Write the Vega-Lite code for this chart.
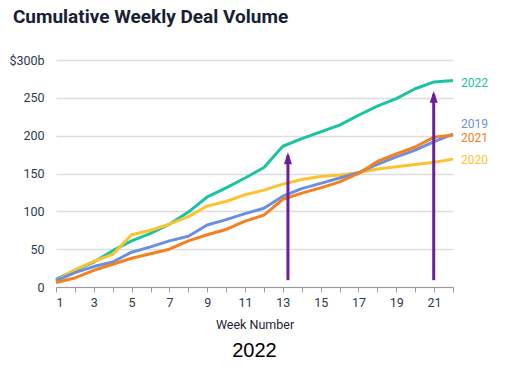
{
  "$schema": "https://vega.github.io/schema/vega-lite/v6.json",
  "padding": {"left": 8, "top": 8, "right": 5, "bottom": 5},
  "background": "white",
  "title": {"text": "Cumulative Weekly Deal Volume", "anchor": "start", "frame": "bounds", "font": "Roboto", "fontSize": 19, "fontWeight": "bold", "color": "#172133", "offset": 27, "dx": 4},
  "datasets": {
    "lines": [
      {"year": "2022", "week": 1, "value": 10}, {"year": "2022", "week": 2, "value": 22}, {"year": "2022", "week": 3, "value": 33}, {"year": "2022", "week": 4, "value": 48}, {"year": "2022", "week": 5, "value": 61}, {"year": "2022", "week": 6, "value": 71}, {"year": "2022", "week": 7, "value": 83}, {"year": "2022", "week": 8, "value": 99}, {"year": "2022", "week": 9, "value": 119}, {"year": "2022", "week": 10, "value": 131}, {"year": "2022", "week": 11, "value": 144}, {"year": "2022", "week": 12, "value": 158}, {"year": "2022", "week": 13, "value": 186}, {"year": "2022", "week": 14, "value": 196}, {"year": "2022", "week": 15, "value": 205}, {"year": "2022", "week": 16, "value": 214}, {"year": "2022", "week": 17, "value": 227}, {"year": "2022", "week": 18, "value": 239}, {"year": "2022", "week": 19, "value": 249}, {"year": "2022", "week": 20, "value": 262}, {"year": "2022", "week": 21, "value": 271}, {"year": "2022", "week": 22, "value": 273},
      {"year": "2020", "week": 1, "value": 8}, {"year": "2020", "week": 2, "value": 23}, {"year": "2020", "week": 3, "value": 34}, {"year": "2020", "week": 4, "value": 43}, {"year": "2020", "week": 5, "value": 69}, {"year": "2020", "week": 6, "value": 75}, {"year": "2020", "week": 7, "value": 83}, {"year": "2020", "week": 8, "value": 93}, {"year": "2020", "week": 9, "value": 107}, {"year": "2020", "week": 10, "value": 113}, {"year": "2020", "week": 11, "value": 122}, {"year": "2020", "week": 12, "value": 128}, {"year": "2020", "week": 13, "value": 136}, {"year": "2020", "week": 14, "value": 142}, {"year": "2020", "week": 15, "value": 146}, {"year": "2020", "week": 16, "value": 148}, {"year": "2020", "week": 17, "value": 151}, {"year": "2020", "week": 18, "value": 156}, {"year": "2020", "week": 19, "value": 159}, {"year": "2020", "week": 20, "value": 162}, {"year": "2020", "week": 21, "value": 165}, {"year": "2020", "week": 22, "value": 169},
      {"year": "2019", "week": 1, "value": 8}, {"year": "2019", "week": 2, "value": 19}, {"year": "2019", "week": 3, "value": 27}, {"year": "2019", "week": 4, "value": 33}, {"year": "2019", "week": 5, "value": 46}, {"year": "2019", "week": 6, "value": 53}, {"year": "2019", "week": 7, "value": 61}, {"year": "2019", "week": 8, "value": 67}, {"year": "2019", "week": 9, "value": 82}, {"year": "2019", "week": 10, "value": 89}, {"year": "2019", "week": 11, "value": 97}, {"year": "2019", "week": 12, "value": 104}, {"year": "2019", "week": 13, "value": 120}, {"year": "2019", "week": 14, "value": 130}, {"year": "2019", "week": 15, "value": 137}, {"year": "2019", "week": 16, "value": 144}, {"year": "2019", "week": 17, "value": 151}, {"year": "2019", "week": 18, "value": 162}, {"year": "2019", "week": 19, "value": 172}, {"year": "2019", "week": 20, "value": 181}, {"year": "2019", "week": 21, "value": 192}, {"year": "2019", "week": 22, "value": 202},
      {"year": "2021", "week": 1, "value": 6}, {"year": "2021", "week": 2, "value": 12}, {"year": "2021", "week": 3, "value": 22}, {"year": "2021", "week": 4, "value": 30}, {"year": "2021", "week": 5, "value": 38}, {"year": "2021", "week": 6, "value": 44}, {"year": "2021", "week": 7, "value": 50}, {"year": "2021", "week": 8, "value": 61}, {"year": "2021", "week": 9, "value": 69}, {"year": "2021", "week": 10, "value": 76}, {"year": "2021", "week": 11, "value": 87}, {"year": "2021", "week": 12, "value": 95}, {"year": "2021", "week": 13, "value": 116}, {"year": "2021", "week": 14, "value": 124}, {"year": "2021", "week": 15, "value": 131}, {"year": "2021", "week": 16, "value": 139}, {"year": "2021", "week": 17, "value": 150}, {"year": "2021", "week": 18, "value": 166}, {"year": "2021", "week": 19, "value": 176}, {"year": "2021", "week": 20, "value": 185}, {"year": "2021", "week": 21, "value": 198}, {"year": "2021", "week": 22, "value": 201}
    ],
    "labels": [
      {"year": "2022", "week": 22, "value": 269},
      {"year": "2019", "week": 22, "value": 215},
      {"year": "2021", "week": 22, "value": 197},
      {"year": "2020", "week": 22, "value": 168}
    ],
    "arrows": [
      {"week": 13.27, "from": 9, "to": 174},
      {"week": 20.98, "from": 9, "to": 255}
    ]
  },
  "vconcat": [
    {
      "width": 397,
      "height": 227,
      "title": {"text": "2022", "orient": "bottom", "anchor": "middle", "frame": "group", "font": "Liberation Sans", "fontSize": 20, "fontWeight": "normal", "color": "#000000", "offset": 10},
      "layer": [
        {
          "data": {"name": "lines"},
          "mark": {"type": "line", "strokeWidth": 3, "strokeJoin": "round"},
          "encoding": {
            "x": {"field": "week", "type": "quantitative", "scale": {"domain": [1, 22], "nice": false, "zero": false},
              "axis": {"values": [1,2,3,4,5,6,7,8,9,10,11,12,13,14,15,16,17,18,19,20,21,22], "tickCount": 30, "format": "d", "labelExpr": "datum.value % 2 == 1 ? datum.label : ''", "labelOverlap": false, "grid": false, "domainColor": "#9a9a9a", "tickColor": "#9a9a9a", "tickSize": 5, "labelFont": "Roboto", "labelFontSize": 12.5, "labelColor": "#2b3a4f", "labelPadding": 4, "title": "Week Number", "titleFont": "Roboto", "titleFontSize": 12.5, "titleFontWeight": "normal", "titleColor": "#1f2633", "titlePadding": 10}},
            "y": {"field": "value", "type": "quantitative", "scale": {"domain": [0, 300], "nice": false},
              "axis": {"values": [0, 50, 100, 150, 200, 250, 300], "tickCount": 10, "format": "d", "labelExpr": "datum.value == 300 ? '$300b' : datum.label", "labelOverlap": false, "domain": false, "ticks": false, "gridColor": "#dddddd", "gridWidth": 1.3, "labelFont": "Roboto", "labelFontSize": 12.5, "labelColor": "#2b3a4f", "labelPadding": 12, "title": null}},
            "color": {"field": "year", "type": "nominal", "scale": {"domain": ["2019", "2020", "2021", "2022"], "range": ["#6b8fe0", "#fdc230", "#f4801f", "#1bc3a3"]}, "legend": null},
            "detail": {"field": "year"}
          }
        },
        {
          "data": {"name": "labels"},
          "mark": {"type": "text", "align": "left", "baseline": "middle", "dx": 8, "font": "Roboto", "fontSize": 12},
          "encoding": {
            "x": {"field": "week", "type": "quantitative"},
            "y": {"field": "value", "type": "quantitative"},
            "text": {"field": "year"},
            "color": {"field": "year", "type": "nominal", "legend": null}
          }
        },
        {
          "data": {"name": "arrows"},
          "mark": {"type": "rule", "color": "#6a1f9e", "strokeWidth": 3},
          "encoding": {
            "x": {"field": "week", "type": "quantitative"},
            "y": {"field": "from", "type": "quantitative"},
            "y2": {"field": "to"}
          }
        },
        {
          "data": {"name": "arrows"},
          "mark": {"type": "point", "shape": "M0,-0.75L-1,2.2L1,2.2Z", "filled": true, "color": "#6a1f9e", "opacity": 1, "size": 64},
          "encoding": {
            "x": {"field": "week", "type": "quantitative"},
            "y": {"field": "to", "type": "quantitative"}
          }
        }
      ]
    }
  ],
  "config": {"view": {"stroke": null}}
}
